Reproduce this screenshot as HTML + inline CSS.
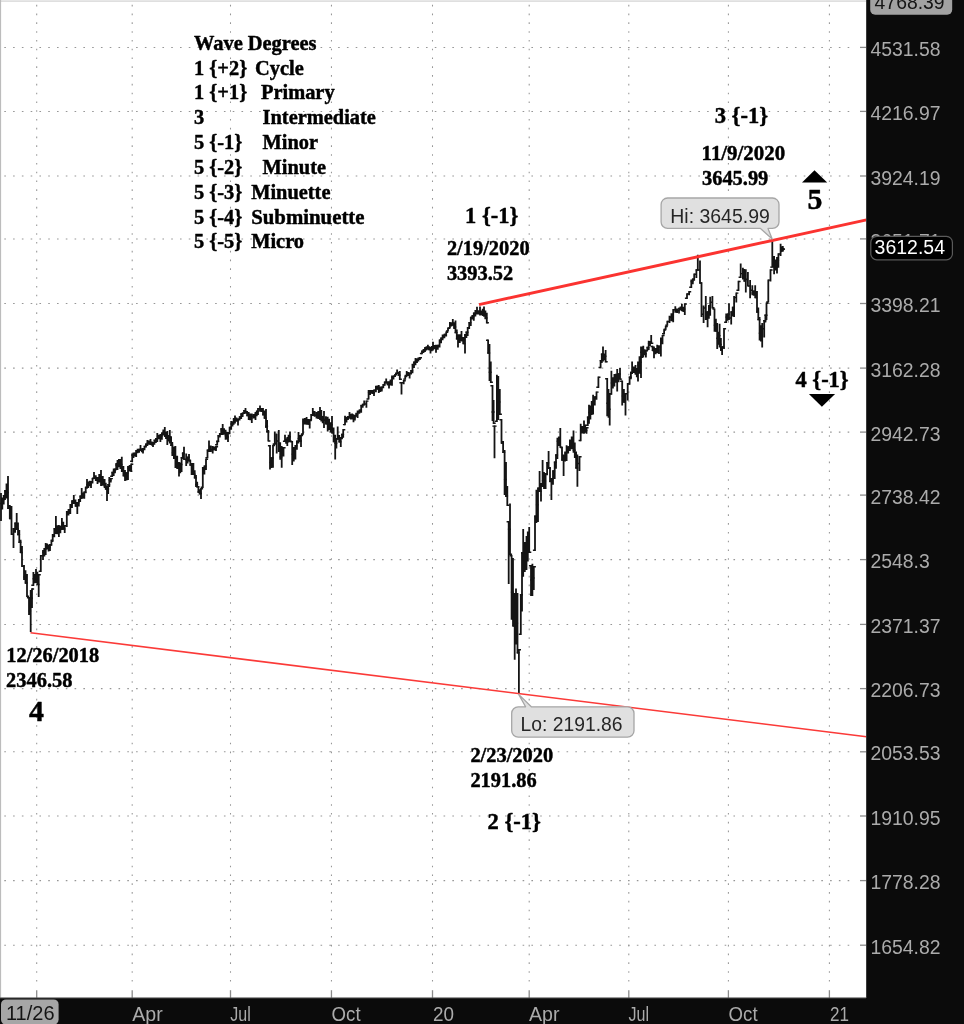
<!DOCTYPE html>
<html lang="en"><head><meta charset="utf-8"><title>Wave Degrees chart</title>
<style>
html,body{margin:0;padding:0;background:#fff;}
body{width:964px;height:1024px;overflow:hidden;position:relative;}
svg{position:absolute;left:0;top:0;display:block;}
.ax{font-family:"Liberation Sans",sans-serif;font-size:19.4px;fill:#ababab;}
.sb{font-family:"Liberation Serif",serif;font-weight:bold;fill:#000;stroke:#000;stroke-width:0.45px;stroke-linejoin:round;}
.t20{font-size:20.4px;}
.t23{font-size:22.5px;}
.t28{font-size:29.8px;}
.co{font-family:"Liberation Sans",sans-serif;font-size:19.4px;fill:#262626;}
</style></head><body>
<svg width="964" height="1024" viewBox="0 0 964 1024">
<rect x="0" y="0" width="964" height="1024" fill="#ffffff"/>

<g stroke="#969696" stroke-width="1.05" stroke-dasharray="1.6 7.185" fill="none">
<line x1="4.3" y1="47.4" x2="855" y2="47.4"/>
<line x1="4.3" y1="111.4" x2="855" y2="111.4"/>
<line x1="4.3" y1="176.0" x2="855" y2="176.0"/>
<line x1="4.3" y1="238.9" x2="855" y2="238.9"/>
<line x1="4.3" y1="303.5" x2="855" y2="303.5"/>
<line x1="4.3" y1="368.1" x2="855" y2="368.1"/>
<line x1="4.3" y1="432.1" x2="855" y2="432.1"/>
<line x1="4.3" y1="495.1" x2="855" y2="495.1"/>
<line x1="4.3" y1="559.6" x2="855" y2="559.6"/>
<line x1="4.3" y1="624.4" x2="855" y2="624.4"/>
<line x1="4.3" y1="688.6" x2="855" y2="688.6"/>
<line x1="4.3" y1="751.8" x2="855" y2="751.8"/>
<line x1="4.3" y1="816.0" x2="855" y2="816.0"/>
<line x1="4.3" y1="880.6" x2="855" y2="880.6"/>
<line x1="4.3" y1="945.2" x2="855" y2="945.2"/>
<line x1="36.7" y1="4.8" x2="36.7" y2="986"/>
<line x1="132.2" y1="4.8" x2="132.2" y2="986"/>
<line x1="230.5" y1="4.8" x2="230.5" y2="986"/>
<line x1="331.45" y1="4.8" x2="331.45" y2="986"/>
<line x1="432.5" y1="4.8" x2="432.5" y2="986"/>
<line x1="529.2" y1="4.8" x2="529.2" y2="986"/>
<line x1="628.8" y1="4.8" x2="628.8" y2="986"/>
<line x1="728.4" y1="4.8" x2="728.4" y2="986"/>
<line x1="829.4" y1="4.8" x2="829.4" y2="986"/>
</g>
<g stroke="#8c8c8c" stroke-width="1.3">
<line x1="860" y1="47.4" x2="866" y2="47.4"/>
<line x1="860" y1="111.4" x2="866" y2="111.4"/>
<line x1="860" y1="176.0" x2="866" y2="176.0"/>
<line x1="860" y1="238.9" x2="866" y2="238.9"/>
<line x1="860" y1="303.5" x2="866" y2="303.5"/>
<line x1="860" y1="368.1" x2="866" y2="368.1"/>
<line x1="860" y1="432.1" x2="866" y2="432.1"/>
<line x1="860" y1="495.1" x2="866" y2="495.1"/>
<line x1="860" y1="559.6" x2="866" y2="559.6"/>
<line x1="860" y1="624.4" x2="866" y2="624.4"/>
<line x1="860" y1="688.6" x2="866" y2="688.6"/>
<line x1="860" y1="751.8" x2="866" y2="751.8"/>
<line x1="860" y1="816.0" x2="866" y2="816.0"/>
<line x1="860" y1="880.6" x2="866" y2="880.6"/>
<line x1="860" y1="945.2" x2="866" y2="945.2"/>
<line x1="36.7" y1="990.2" x2="36.7" y2="998"/>
<line x1="132.2" y1="990.2" x2="132.2" y2="998"/>
<line x1="230.5" y1="990.2" x2="230.5" y2="998"/>
<line x1="331.45" y1="990.2" x2="331.45" y2="998"/>
<line x1="432.5" y1="990.2" x2="432.5" y2="998"/>
<line x1="529.2" y1="990.2" x2="529.2" y2="998"/>
<line x1="628.8" y1="990.2" x2="628.8" y2="998"/>
<line x1="728.4" y1="990.2" x2="728.4" y2="998"/>
<line x1="829.4" y1="990.2" x2="829.4" y2="998"/>
</g>
<rect x="0" y="0.4" width="866" height="1.4" fill="#d8d8d8"/>
<rect x="0" y="0" width="1.1" height="998" fill="#bcbcbc"/>
<path d="M1.0 493.0V521.0M2.3 497.4V509.4M3.7 494.9V504.5M5.0 490.0V500.0M6.5 483.4V498.5M8.0 476.0V509.0M9.8 505.1V519.3M11.5 506.0V535.0M13.5 528.0V548.0M15.1 522.4V532.7M16.7 513.0V530.0M18.0 522.6V535.3M19.3 530.0V543.0M20.6 539.7V553.1M22.0 546.0V567.0M24.0 565.0V580.0M25.5 570.3V583.7M27.0 574.0V597.0M29.0 597.0V615.0M30.7 590.0V632.0M32.0 588.2V607.9M33.4 572.0V586.0M34.7 574.0V583.3M36.0 569.0V583.0M37.4 571.8V585.1M38.7 574.0V597.0M40.8 555.0V572.0M43.0 550.0V560.0M44.4 548.1V556.4M45.7 543.0V555.0M47.1 543.5V549.4M48.6 544.5V551.4M50.0 544.0V551.0M51.4 540.6V545.8M52.7 534.0V541.0M54.3 528.0V537.2M55.9 516.0V534.0M57.4 525.2V534.3M58.9 525.0V537.0M60.4 525.7V533.2M61.9 518.0V530.0M63.3 521.7V529.7M64.7 525.0V533.0M66.8 511.0V527.0M68.5 508.9V515.5M70.3 504.0V514.0M72.0 500.2V508.1M73.8 495.0V504.0M75.5 499.4V506.8M77.3 502.0V514.0M78.8 498.9V506.5M80.2 495.4V502.1M81.7 488.0V499.0M83.0 492.4V498.6M84.3 491.6V498.7M85.7 487.4V493.2M87.0 479.0V488.0M88.3 481.4V488.0M89.7 480.7V486.2M91.0 481.0V488.0M92.5 477.9V483.4M94.0 472.0V479.0M95.8 475.2V480.9M97.5 477.0V484.0M99.2 474.1V482.6M101.0 470.0V486.0M102.8 476.1V485.8M104.6 479.0V488.0M105.8 482.8V489.6M107.0 486.0V501.0M108.2 484.1V494.0M109.3 477.0V487.0M110.8 477.9V482.4M112.2 471.8V476.9M113.7 468.5V476.0M115.0 468.4V473.2M116.2 462.9V470.2M117.5 460.0V470.0M118.9 459.1V467.2M120.4 459.0V469.0M121.8 456.7V472.0M123.4 465.9V476.4M125.0 470.0V481.0M126.5 472.3V480.5M128.0 466.0V480.0M129.6 465.1V471.6M131.2 463.5V472.0M132.2 453.5V462.0M133.5 452.4V457.9M134.9 452.6V456.6M136.2 450.0V457.0M137.6 448.7V453.3M139.1 448.7V452.7M140.5 445.0V451.0M141.8 448.2V452.2M143.0 448.0V453.5M144.5 445.7V450.3M145.9 443.6V447.6M147.4 440.0V446.0M148.9 440.5V444.8M150.5 439.0V445.0M151.8 441.4V445.4M153.0 442.0V447.0M154.4 439.6V444.8M155.9 438.1V442.9M157.3 433.0V442.0M158.9 434.7V439.3M160.4 434.0V442.0M161.9 432.4V439.7M163.3 429.4V435.6M164.8 427.0V437.0M166.1 431.7V439.1M167.3 431.0V445.0M168.6 435.1V441.4M169.8 430.0V443.5M171.1 436.2V445.9M172.3 442.0V456.0M173.9 446.5V459.1M175.4 446.0V468.0M177.2 455.8V469.0M179.0 462.0V476.6M180.3 462.4V473.3M181.6 457.0V472.0M182.8 452.3V458.8M184.0 446.7V460.0M186.2 453.5V466.0M187.6 456.4V463.4M189.0 454.0V461.0M190.3 460.4V465.7M191.6 463.0V475.0M193.4 463.0V475.0M194.7 470.2V478.4M196.0 475.0V487.0M197.2 481.7V487.4M198.4 486.0V493.0M199.7 489.2V494.5M201.0 488.0V499.0M202.8 467.0V488.0M204.4 465.4V474.6M206.0 458.5V470.0M207.5 449.6V458.3M209.0 440.5V452.0M210.8 445.5V451.9M212.7 446.0V453.5M214.3 446.5V450.5M216.0 446.0V451.0M217.2 440.8V445.5M218.3 435.0V442.0M219.8 433.1V437.4M221.2 427.9V435.0M222.7 424.0V435.0M224.1 428.3V434.4M225.6 429.7V439.7M226.8 431.8V439.6M228.0 432.0V442.0M229.6 426.8V434.2M231.2 421.0V429.7M232.5 421.4V426.4M233.7 418.0V424.7M235.0 415.4V423.5M236.5 417.4V421.4M238.0 418.5V425.4M239.6 416.2V420.4M241.2 413.0V419.0M242.6 412.4V417.0M244.1 410.1V414.1M245.5 408.0V413.5M247.1 411.0V416.2M248.7 412.0V420.0M250.2 413.4V420.2M251.8 413.5V423.0M253.7 414.0V418.4M255.5 412.0V420.0M256.8 410.5V416.2M258.0 408.0V415.0M260.0 405.5V411.7M261.5 407.9V411.9M263.0 408.0V415.4M264.5 410.6V418.7M266.0 409.0V428.0M267.1 419.9V432.5M268.3 430.0V441.6M270.0 445.0V469.6M271.5 457.2V467.9M273.0 444.7V467.7M274.8 431.6V444.7M276.7 433.5V453.4M278.8 430.0V452.0M280.2 442.3V459.8M281.7 446.0V467.7M283.5 447.0V456.5M285.0 434.7V442.0M286.1 438.8V443.8M287.3 437.0V446.0M288.6 434.7V442.6M290.0 431.6V442.0M292.2 441.0V465.0M293.8 447.1V461.5M295.4 445.0V459.6M296.9 440.4V449.7M298.5 432.0V443.4M299.8 435.1V441.8M301.0 434.7V447.0M303.0 418.5V434.7M304.8 418.1V424.6M306.6 417.0V424.8M308.1 419.1V424.8M309.7 419.8V428.5M311.2 414.0V420.4M312.8 408.0V416.0M314.6 410.9V416.8M316.5 412.0V418.5M318.2 411.1V419.1M320.0 407.0V420.0M321.3 409.9V421.5M322.7 416.0V423.2M324.0 411.0V428.0M325.9 416.2V424.4M327.7 416.7V431.6M329.1 418.8V430.1M330.6 422.2V432.5M332.0 416.0V433.5M333.6 427.6V442.3M335.2 434.7V459.6M336.4 438.0V448.5M337.7 426.6V439.7M339.2 435.0V442.4M340.8 437.0V447.0M342.0 433.8V439.3M343.2 429.0V437.7M345.0 415.7V425.3M346.5 416.8V422.6M348.0 416.1V420.1M349.5 412.0V418.7M350.8 413.8V419.6M352.2 413.5V419.4M353.5 414.3V422.3M354.9 415.1V420.5M356.2 412.8V416.8M357.6 410.6V418.0M359.4 409.5V413.8M361.2 404.8V412.8M362.7 403.8V407.8M364.2 400.4V405.5M366.4 400.4V407.7M368.6 390.0V399.6M370.1 390.0V395.1M371.5 390.0V393.8M372.8 389.9V393.9M374.0 389.4V396.0M375.9 385.7V392.3M377.4 385.6V389.6M378.8 385.0V393.0M380.3 386.6V392.1M381.8 386.4V391.6M383.3 384.3V388.3M384.7 381.4V385.4M386.2 378.4V383.5M387.6 381.3V385.3M389.0 381.3V388.6M390.5 379.4V385.4M392.0 375.5V385.7M393.5 375.6V379.6M395.0 374.0V377.0M397.1 369.6V374.0M398.5 371.8V375.8M399.8 371.0V380.0M401.5 382.0V394.5M403.7 380.0V384.2M405.2 375.8V379.8M406.7 371.0V376.2M408.1 372.0V376.0M409.6 372.5V378.4M411.1 370.0V374.6M412.5 363.7V373.3M414.0 361.6V368.0M415.5 357.9V365.2M417.0 358.4V363.0M418.4 357.5V361.5M419.9 357.0V360.0M422.0 350.5V354.2M423.5 349.0V353.0M425.0 346.9V352.0M426.4 346.6V350.6M427.9 344.7V349.8M429.2 346.3V350.3M430.5 346.9V353.5M431.8 346.1V351.2M433.0 341.8V350.5M434.5 345.1V349.1M436.0 344.7V352.7M437.8 344.8V349.8M439.6 339.6V347.6M441.1 337.5V343.2M442.6 334.4V340.3M444.4 333.8V338.2M446.2 331.5V336.6M448.0 327.6V331.6M449.9 322.0V328.6M451.4 322.6V326.6M452.8 319.0V325.6M454.1 322.2V329.1M455.5 320.6V333.3M456.8 329.4V339.4M458.0 334.2V347.5M459.8 334.3V343.1M461.5 331.0V341.3M463.2 337.0V344.3M465.0 334.0V353.6M466.4 331.6V338.1M467.7 327.0V336.0M469.2 321.9V328.9M470.8 316.7V326.0M472.3 315.1V319.4M473.8 312.6V320.8M475.4 310.0V316.4M477.0 306.8V314.6M478.5 310.4V314.4M480.0 306.4V315.6M481.3 310.4V315.2M482.7 308.7V315.9M484.0 306.4V316.7M485.4 310.6V319.3M486.8 312.7V323.4M488.1 339.6V353.7M489.5 344.0V381.0M490.8 361.5V383.0M492.5 385.0V421.0M493.6 400.0V424.0M494.5 425.4V458.2M496.9 374.7V422.0M498.3 376.0V420.0M499.8 389.0V415.0M501.5 419.0V443.8M503.1 441.0V453.0M504.6 450.0V495.0M506.0 462.0V497.0M507.3 486.0V506.0M508.7 521.0V584.0M510.0 503.6V555.0M511.6 555.0V619.8M513.0 558.0V626.6M514.7 592.9V659.7M516.0 588.4V644.6M517.5 592.9V653.5M518.9 649.0V694.0M520.8 594.0V635.0M522.0 552.0V611.4M523.2 529.0V576.7M524.8 542.0V572.0M526.5 535.9V570.0M527.8 531.6V561.6M529.2 527.0V553.0M531.0 565.0V596.0M532.4 563.7V596.0M533.8 566.0V590.0M535.0 515.4V551.0M536.4 489.7V523.0M538.0 487.5V522.0M539.6 471.0V492.0M541.0 483.0V501.5M542.6 460.0V487.0M544.0 472.0V489.0M545.6 473.0V489.0M547.1 462.1V475.2M548.6 451.0V469.0M550.0 467.0V482.1M551.4 478.0V500.0M553.0 470.3V484.8M554.7 461.5V479.0M556.0 454.2V468.7M557.4 437.8V459.0M558.8 436.4V446.1M560.3 428.0V447.8M562.0 446.8V460.7M563.6 454.5V476.0M565.1 451.4V461.6M566.6 445.3V461.0M568.2 446.2V453.6M569.9 439.5V451.0M571.7 436.6V449.3M573.5 430.4V452.8M574.8 442.5V457.9M576.1 451.4V468.6M577.4 454.5V486.8M579.5 456.0V471.0M580.7 423.8V441.2M582.4 426.1V433.5M584.0 420.5V433.7M585.2 424.4V432.8M586.5 427.0V433.7M587.8 416.4V426.0M589.0 404.7V423.8M590.4 405.4V419.4M591.7 400.9V415.0M593.1 394.7V414.6M594.8 396.3V405.4M596.5 391.4V399.7M598.4 376.5V388.0M600.6 359.9V368.2M601.8 353.6V363.0M603.0 346.6V361.5M604.3 353.5V360.2M605.6 350.0V362.4M607.2 378.0V416.3M608.5 388.9V417.7M609.7 393.0V425.4M611.4 370.7V394.7M612.9 377.2V388.6M614.4 374.0V386.4M615.8 373.7V382.8M617.2 369.0V391.4M618.6 373.2V382.3M620.0 368.0V379.8M622.2 380.6V405.5M623.9 389.1V402.8M625.5 393.0V415.5M627.7 383.0V400.5M629.6 376.5V384.8M630.9 371.7V379.3M632.1 361.5V374.0M633.8 366.6V373.0M635.5 364.9V374.8M636.8 368.1V377.3M638.0 361.5V381.5M639.5 356.2V373.8M641.0 346.6V378.0M642.1 346.4V358.0M643.3 345.8V357.4M644.6 349.2V355.3M645.9 350.0V357.4M647.3 346.8V351.1M648.7 340.8V350.0M650.0 340.9V346.1M651.2 335.0V344.0M652.6 345.8V351.1M654.0 346.6V358.2M655.6 347.9V354.3M657.2 344.8V353.3M659.0 345.3V354.0M660.9 337.5V356.4M662.5 334.9V344.2M664.1 329.3V334.4M665.7 325.8V329.8M667.3 320.8V325.8M669.5 315.7V323.0M671.4 313.2V321.3M673.2 309.0V322.2M675.3 306.2V312.8M677.1 308.5V313.1M679.0 307.7V313.5M680.5 306.4V310.6M681.9 304.0V311.3M683.3 306.8V311.9M684.8 303.3V315.0M687.0 293.2V299.0M689.1 291.0V295.3M691.3 279.4V288.0M692.8 278.6V284.3M694.2 273.6V280.8M696.4 269.2V278.0M697.8 254.7V270.7M700.0 260.5V283.7M701.5 282.3V317.0M703.6 305.5V323.0M705.8 296.0V320.0M707.6 311.3V327.3M708.9 304.9V318.7M710.2 296.8V315.7M712.4 296.0V308.4M714.5 308.4V331.7M715.9 318.7V331.7M717.2 323.0V349.0M718.4 331.7V344.8M719.6 323.7V347.6M720.9 338.0V351.0M722.1 346.2V355.0M724.0 328.0V349.0M726.2 313.5V323.0M727.6 313.5V320.7M729.0 303.3V320.0M731.2 311.3V324.4M732.7 306.7V316.5M734.1 296.0V317.0M736.3 292.4V302.6M738.5 280.8V291.0M740.7 263.4V278.0M742.9 267.8V279.4M744.3 268.9V281.8M745.8 269.2V292.4M747.9 272.0V286.6M750.1 280.0V298.3M752.3 285.2V295.3M753.8 290.2V295.8M755.2 285.2V298.3M757.0 291.0V312.8M758.3 307.5V320.3M759.6 317.0V340.4M760.9 325.2V341.5M762.2 323.0V347.6M764.2 320.0V337.5M765.4 314.5V322.4M766.5 302.6V320.0M768.3 279.4V302.6M770.5 269.2V281.6M772.3 239.4V267.8M774.1 256.0V274.3M775.5 259.6V270.6M777.0 256.9V273.6M778.4 253.2V267.8M780.6 243.8V256.0M782.8 246.0V251.8" stroke="#141414" stroke-width="1.8" fill="none"/>
<path d="M-1.1 503.4H1.0M1.0 503.4H3.1M0.2 503.4H2.3M2.3 499.7H4.4M1.6 499.7H3.7M3.7 495.6H5.8M2.9 495.6H5.0M5.0 491.0H7.1M4.4 491.0H6.5M6.5 492.5H8.6M5.9 492.5H8.0M8.0 508.3H10.1M7.7 508.3H9.8M9.8 518.6H11.8M9.4 518.6H11.5M11.5 534.3H13.6M11.4 534.3H13.5M13.5 528.7H15.6M13.0 528.7H15.1M15.1 523.1H17.2M14.6 523.1H16.7M16.7 528.9H18.8M15.9 528.9H18.0M18.0 534.6H20.1M17.2 534.6H19.3M19.3 542.3H21.4M18.5 542.3H20.6M20.6 552.4H22.8M19.9 552.4H22.0M22.0 566.3H24.1M21.9 566.3H24.0M24.0 577.0H26.1M23.4 577.0H25.5M25.5 583.0H27.6M24.9 583.0H27.0M27.0 596.3H29.1M26.9 597.7H29.0M29.0 611.0H31.1M28.6 611.0H30.7M30.7 598.1H32.8M29.9 598.1H32.0M32.0 588.9H34.1M31.3 585.3H33.4M33.4 578.7H35.5M32.6 578.7H34.7M34.7 576.0H36.8M33.9 576.0H36.0M36.0 578.5H38.1M35.2 578.5H37.4M37.4 584.4H39.5M36.6 584.4H38.7M38.7 574.7H40.8M38.7 571.3H40.8M40.8 555.7H42.9M40.9 555.7H43.0M43.0 552.2H45.1M42.2 552.2H44.4M44.4 549.0H46.5M43.6 549.0H45.7M45.7 546.4H47.8M45.0 546.4H47.1M47.1 548.0H49.2M46.5 548.0H48.6M48.6 547.5H50.7M47.9 547.5H50.0M50.0 544.7H52.1M49.2 544.7H51.4M51.4 541.3H53.5M50.6 540.3H52.7M52.7 534.7H54.8M52.2 534.7H54.3M54.3 528.7H56.4M53.8 528.7H55.9M55.9 529.8H58.0M55.3 529.8H57.4M57.4 531.0H59.5M56.8 531.0H58.9M58.9 529.4H61.0M58.3 529.4H60.4M60.4 526.4H62.5M59.8 526.4H61.9M61.9 525.7H64.0M61.2 525.7H63.3M63.3 529.0H65.4M62.6 529.0H64.7M64.7 525.7H66.8M64.7 525.7H66.8M66.8 512.2H68.9M66.5 512.2H68.5M68.5 509.6H70.6M68.2 509.6H70.3M70.3 504.7H72.4M70.0 504.7H72.0M72.0 500.9H74.1M71.7 500.9H73.8M73.8 503.1H75.9M73.5 503.1H75.5M75.5 506.1H77.6M75.2 506.1H77.3M77.3 502.7H79.4M76.7 502.7H78.8M78.8 499.6H80.9M78.1 499.6H80.2M80.2 496.1H82.3M79.6 496.1H81.7M81.7 495.5H83.8M80.9 495.5H83.0M83.0 495.1H85.1M82.2 495.1H84.3M84.3 492.3H86.4M83.6 492.3H85.7M85.7 488.1H87.8M84.9 487.3H87.0M87.0 484.7H89.1M86.2 484.7H88.3M88.3 483.4H90.4M87.6 483.4H89.7M89.7 484.5H91.8M88.9 484.5H91.0M91.0 481.7H93.1M90.4 481.7H92.5M92.5 478.6H94.6M91.9 478.3H94.0M94.0 478.1H96.1M93.7 478.1H95.8M95.8 480.2H97.8M95.4 480.2H97.5M97.5 478.4H99.6M97.2 478.4H99.2M99.2 478.0H101.3M98.9 478.0H101.0M101.0 480.9H103.1M100.7 480.9H102.8M102.8 483.5H104.9M102.5 483.5H104.6M104.6 486.2H106.7M103.7 486.2H105.8M105.8 488.9H107.9M104.9 488.9H107.0M107.0 489.0H109.1M106.1 489.0H108.2M108.2 484.8H110.2M107.2 484.8H109.3M109.3 480.2H111.4M108.7 480.2H110.8M110.8 478.6H112.9M110.1 476.2H112.2M112.2 472.5H114.3M111.6 472.5H113.7M113.7 470.8H115.8M112.9 470.8H115.0M115.0 469.1H117.1M114.1 469.1H116.2M116.2 465.0H118.3M115.4 465.0H117.5M117.5 463.2H119.6M116.8 463.2H118.9M118.9 464.0H121.0M118.3 464.0H120.4M120.4 464.4H122.5M119.7 464.4H121.8M121.8 471.2H123.9M121.3 471.2H123.4M123.4 475.5H125.5M122.9 475.5H125.0M125.0 476.4H127.1M124.4 476.4H126.5M126.5 473.0H128.6M125.9 473.0H128.0M128.0 468.3H130.1M127.5 468.3H129.6M129.6 467.8H131.7M129.1 467.8H131.2M131.2 464.2H133.3M130.1 461.3H132.2M132.2 455.2H134.3M131.4 455.2H133.5M133.5 454.6H135.6M132.8 454.6H134.9M134.9 453.5H137.0M134.1 453.5H136.2M136.2 451.0H138.3M135.5 451.0H137.6M137.6 450.7H139.7M137.0 450.7H139.1M139.1 449.4H141.2M138.4 449.4H140.5M140.5 450.2H142.6M139.7 450.2H141.8M141.8 450.8H143.8M140.9 450.8H143.0M143.0 448.7H145.1M142.4 448.7H144.5M144.5 446.4H146.6M143.8 446.4H145.9M145.9 444.3H148.0M145.3 444.3H147.4M147.4 442.7H149.5M146.8 442.7H148.9M148.9 442.0H151.0M148.4 442.0H150.5M150.5 443.4H152.6M149.7 443.4H151.8M151.8 444.5H153.8M150.9 444.5H153.0M153.0 442.7H155.1M152.3 442.7H154.4M154.4 440.5H156.5M153.8 440.5H155.9M155.9 438.8H158.0M155.2 438.8H157.3M157.3 437.0H159.4M156.8 437.0H158.9M158.9 438.0H161.0M158.3 438.0H160.4M160.4 436.0H162.5M159.8 436.0H161.9M161.9 433.1H164.0M161.2 433.1H163.3M163.3 432.0H165.4M162.7 432.0H164.8M164.8 435.4H166.9M164.0 435.4H166.1M166.1 438.0H168.2M165.2 438.0H167.3M167.3 438.2H169.4M166.5 438.2H168.6M168.6 436.8H170.7M167.7 436.8H169.8M169.8 441.1H171.9M169.0 441.1H171.1M171.1 445.2H173.2M170.2 445.2H172.3M172.3 452.8H174.4M171.8 452.8H173.9M173.9 457.0H176.0M173.3 457.0H175.4M175.4 462.4H177.5M175.1 462.4H177.2M177.2 468.3H179.3M176.9 468.3H179.0M179.0 467.8H181.1M178.2 467.8H180.3M180.3 464.5H182.4M179.5 464.5H181.6M181.6 457.7H183.7M180.7 457.7H182.8M182.8 453.4H184.9M181.9 453.4H184.0M184.0 459.3H186.1M184.1 459.3H186.2M186.2 459.9H188.3M185.5 459.9H187.6M187.6 457.5H189.7M186.9 457.5H189.0M189.0 460.3H191.1M188.2 461.1H190.3M190.3 465.0H192.4M189.5 465.0H191.6M191.6 469.0H193.7M191.3 469.0H193.4M193.4 474.3H195.5M192.6 474.3H194.7M194.7 477.7H196.8M193.9 477.7H196.0M196.0 484.5H198.1M195.1 484.5H197.2M197.2 486.7H199.3M196.3 486.7H198.4M198.4 491.8H200.5M197.6 491.8H199.7M199.7 493.5H201.8M198.9 493.5H201.0M201.0 488.7H203.1M200.7 487.3H202.8M202.8 470.0H204.9M202.3 470.0H204.4M204.4 466.1H206.5M203.9 466.1H206.0M206.0 459.2H208.1M205.4 457.6H207.5M207.5 450.3H209.6M206.9 450.3H209.0M209.0 448.7H211.1M208.8 448.7H210.8M210.8 449.8H212.9M210.6 449.8H212.7M212.7 448.5H214.8M212.2 448.5H214.3M214.3 448.5H216.4M213.9 448.5H216.0M216.0 446.7H218.1M215.1 444.8H217.2M217.2 441.5H219.2M216.2 441.3H218.3M218.3 435.7H220.4M217.7 435.7H219.8M219.8 433.8H221.9M219.1 433.8H221.2M221.2 429.5H223.3M220.6 429.5H222.7M222.7 431.4H224.8M222.0 431.4H224.1M224.1 433.7H226.2M223.5 433.7H225.6M225.6 435.7H227.7M224.7 435.7H226.8M226.8 437.0H228.9M225.9 437.0H228.0M228.0 432.7H230.1M227.5 432.7H229.6M229.6 427.5H231.7M229.1 427.5H231.2M231.2 423.9H233.3M230.4 423.9H232.5M232.5 422.1H234.6M231.6 422.1H233.7M233.7 419.4H235.8M232.9 419.4H235.0M235.0 419.4H237.1M234.4 419.4H236.5M236.5 420.7H238.6M235.9 420.7H238.0M238.0 419.2H240.1M237.5 419.2H239.6M239.6 416.9H241.7M239.1 416.9H241.2M241.2 414.7H243.3M240.5 414.7H242.6M242.6 413.1H244.7M242.0 413.1H244.1M244.1 410.8H246.2M243.4 410.8H245.5M245.5 412.8H247.6M245.0 412.8H247.1M247.1 415.5H249.2M246.6 415.5H248.7M248.7 416.8H250.8M248.2 416.8H250.2M250.2 418.2H252.3M249.7 418.2H251.8M251.8 416.2H253.9M251.6 416.2H253.7M253.7 416.0H255.8M253.4 416.0H255.5M255.5 413.4H257.6M254.7 413.4H256.8M256.8 411.5H258.9M255.9 411.5H258.0M258.0 408.7H260.1M257.9 408.7H260.0M260.0 409.9H262.1M259.4 409.9H261.5M261.5 411.2H263.6M260.9 411.2H263.0M263.0 414.6H265.1M262.4 414.6H264.5M264.5 418.0H266.6M263.9 418.0H266.0M266.0 426.2H268.1M265.0 426.2H267.1M267.1 431.8H269.2M266.2 431.8H268.3M268.3 440.9H270.4M267.9 445.7H270.0M270.0 462.5H272.1M269.4 462.5H271.5M271.5 457.9H273.6M270.9 457.9H273.0M273.0 445.4H275.1M272.7 444.0H274.8M274.8 443.4H276.9M274.6 443.4H276.7M276.7 441.0H278.8M276.7 441.0H278.8M278.8 451.0H280.9M278.1 451.0H280.2M280.2 456.9H282.4M279.6 456.9H281.7M281.7 451.8H283.8M281.4 451.8H283.5M283.5 447.7H285.6M282.9 441.3H285.0M285.0 441.3H287.1M284.0 441.3H286.1M286.1 441.5H288.2M285.2 441.5H287.3M287.3 438.7H289.4M286.5 438.7H288.6M288.6 436.8H290.8M287.9 436.8H290.0M290.0 441.3H292.1M290.1 441.7H292.2M292.2 454.3H294.3M291.7 454.3H293.8M293.8 452.3H295.9M293.3 452.3H295.4M295.4 445.7H297.5M294.8 445.7H296.9M296.9 441.1H299.1M296.4 441.1H298.5M298.5 438.5H300.6M297.6 438.5H299.8M299.8 440.9H301.9M298.9 440.9H301.0M301.0 435.4H303.1M300.9 434.0H303.0M303.0 421.4H305.1M302.7 421.4H304.8M304.8 420.9H306.9M304.5 420.9H306.6M306.6 422.0H308.7M306.0 422.0H308.1M308.1 424.1H310.2M307.6 424.1H309.7M309.7 420.5H311.8M309.1 419.7H311.2M311.2 414.7H313.4M310.7 414.7H312.8M312.8 413.9H314.9M312.5 413.9H314.6M314.6 415.2H316.8M314.4 415.2H316.5M316.5 415.1H318.6M316.1 415.1H318.2M318.2 413.5H320.4M317.9 413.5H320.0M320.0 415.7H322.1M319.2 415.7H321.3M321.3 419.6H323.4M320.6 419.6H322.7M322.7 419.5H324.8M321.9 419.5H324.0M324.0 420.3H326.1M323.8 420.3H325.9M325.9 423.7H328.0M325.6 423.7H327.7M327.7 424.5H329.8M327.0 424.5H329.1M329.1 427.4H331.2M328.5 427.4H330.6M330.6 424.8H332.7M329.9 424.8H332.0M332.0 432.8H334.1M331.5 432.8H333.6M333.6 441.6H335.7M333.1 441.6H335.2M335.2 443.2H337.3M334.3 443.2H336.4M336.4 438.7H338.6M335.6 438.7H337.7M337.7 438.7H339.8M337.1 438.7H339.2M339.2 441.7H341.4M338.7 441.7H340.8M340.8 437.7H342.9M339.9 437.7H342.0M342.0 434.5H344.1M341.1 434.5H343.2M343.2 429.7H345.3M342.9 424.6H345.0M345.0 419.7H347.1M344.4 419.7H346.5M346.5 418.1H348.6M345.9 418.1H348.0M348.0 416.8H350.1M347.4 416.8H349.5M349.5 416.7H351.6M348.7 416.7H350.8M350.8 416.5H352.9M350.1 416.5H352.2M352.2 418.3H354.3M351.4 418.3H353.5M353.5 417.8H355.6M352.8 417.8H354.9M354.9 415.8H357.0M354.1 415.8H356.2M356.2 414.3H358.3M355.5 414.3H357.6M357.6 411.6H359.7M357.3 411.6H359.4M359.4 410.2H361.5M359.1 410.2H361.2M361.2 405.8H363.3M360.6 405.8H362.7M362.7 404.5H364.8M362.1 404.5H364.2M364.2 404.0H366.3M364.3 404.0H366.4M366.4 401.1H368.5M366.5 398.9H368.6M368.6 392.6H370.7M367.9 392.6H370.1M370.1 391.9H372.2M369.4 391.9H371.5M371.5 391.9H373.6M370.6 391.9H372.8M372.8 392.7H374.9M371.9 392.7H374.0M374.0 390.1H376.1M373.8 390.1H375.9M375.9 387.6H378.0M375.2 387.6H377.4M377.4 388.9H379.5M376.7 388.9H378.8M378.8 389.4H380.9M378.2 389.4H380.3M380.3 389.0H382.4M379.7 389.0H381.8M381.8 387.1H383.9M381.2 387.1H383.3M383.3 385.0H385.4M382.6 384.7H384.7M384.7 382.1H386.8M384.1 382.1H386.2M386.2 382.8H388.3M385.5 382.8H387.6M387.6 384.6H389.7M386.9 384.6H389.0M389.0 382.4H391.1M388.4 382.4H390.5M390.5 380.6H392.6M389.9 380.6H392.0M392.0 377.6H394.1M391.4 377.6H393.5M393.5 376.3H395.6M392.9 376.3H395.0M395.0 374.7H397.1M395.0 373.3H397.1M397.1 373.3H399.2M396.4 373.3H398.5M398.5 375.1H400.6M397.7 375.1H399.8M399.8 379.3H401.9M399.4 382.7H401.5M401.5 382.7H403.6M401.6 382.7H403.7M403.7 380.7H405.8M403.1 379.1H405.2M405.2 376.5H407.3M404.6 375.5H406.7M406.7 374.0H408.8M406.0 374.0H408.1M408.1 375.3H410.2M407.5 375.3H409.6M409.6 373.2H411.7M408.9 373.2H411.1M411.1 370.7H413.2M410.4 370.7H412.5M412.5 364.8H414.6M411.9 364.8H414.0M414.0 362.3H416.1M413.4 362.3H415.5M415.5 360.7H417.6M414.9 360.7H417.0M417.0 359.5H419.1M416.3 359.5H418.4M418.4 358.5H420.5M417.8 358.5H419.9M419.9 357.7H422.0M419.9 353.5H422.0M422.0 351.2H424.1M421.4 351.2H423.5M423.5 349.7H425.6M422.9 349.7H425.0M425.0 348.6H427.1M424.3 348.6H426.4M426.4 347.3H428.6M425.8 347.3H427.9M427.9 348.3H430.0M427.1 348.3H429.2M429.2 349.6H431.3M428.4 349.6H430.5M430.5 348.7H432.6M429.6 348.7H431.8M431.8 346.8H433.9M430.9 346.8H433.0M433.0 347.1H435.1M432.4 347.1H434.5M434.5 348.4H436.6M433.9 348.4H436.0M436.0 347.3H438.1M435.7 347.3H437.8M437.8 345.5H439.9M437.5 345.5H439.6M439.6 340.3H441.7M439.0 340.3H441.1M441.1 338.2H443.2M440.5 338.2H442.6M442.6 336.0H444.7M442.3 336.0H444.4M444.4 334.5H446.5M444.1 334.5H446.2M446.2 332.2H448.3M445.9 330.9H448.0M448.0 328.3H450.1M447.8 327.9H449.9M449.9 324.6H452.0M449.2 324.6H451.4M451.4 323.3H453.5M450.7 323.3H452.8M452.8 324.9H454.9M452.0 324.9H454.1M454.1 327.0H456.2M453.4 327.0H455.5M455.5 332.6H457.6M454.6 332.6H456.8M456.8 338.7H458.9M455.9 338.7H458.0M458.0 338.7H460.1M457.6 338.7H459.8M459.8 336.1H461.9M459.4 336.1H461.5M461.5 340.6H463.6M461.1 340.6H463.2M463.2 343.6H465.4M462.9 343.6H465.0M465.0 334.9H467.1M464.2 334.9H466.4M466.4 332.3H468.5M465.6 332.3H467.7M467.7 327.7H469.8M467.1 327.7H469.2M469.2 322.6H471.4M468.7 322.6H470.8M470.8 317.4H472.9M470.2 317.4H472.3M472.3 316.7H474.4M471.7 316.7H473.8M473.8 313.3H475.9M473.3 313.3H475.4M475.4 310.7H477.5M474.9 310.7H477.0M477.0 312.4H479.1M476.4 312.4H478.5M478.5 311.1H480.6M477.9 311.1H480.0M480.0 312.8H482.1M479.2 312.8H481.3M481.3 312.3H483.4M480.6 312.3H482.7M482.7 311.5H484.8M481.9 311.5H484.0M484.0 314.9H486.1M483.3 314.9H485.4M485.4 318.0H487.5M484.7 318.0H486.8M486.8 322.7H488.9M486.0 340.3H488.1M488.1 353.0H490.2M487.4 353.0H489.5M489.5 372.2H491.6M488.7 372.2H490.8M490.8 382.3H492.9M490.4 385.7H492.5M492.5 412.0H494.6M491.5 412.0H493.6M493.6 423.3H495.7M492.4 426.1H494.5M494.5 426.1H496.6M494.8 421.3H496.9M496.9 398.0H499.0M496.2 398.0H498.3M498.3 402.0H500.4M497.7 402.0H499.8M499.8 414.3H501.9M499.4 419.7H501.5M501.5 443.1H503.6M501.0 443.1H503.1M503.1 452.3H505.2M502.5 452.3H504.6M504.6 479.5H506.7M503.9 479.5H506.0M506.0 496.0H508.1M505.2 496.0H507.3M507.3 505.3H509.4M506.6 521.7H508.7M508.7 529.3H510.8M507.9 529.3H510.0M510.0 554.3H512.1M509.5 555.7H511.6M511.6 592.3H513.7M510.9 592.3H513.0M513.0 625.9H515.1M512.6 625.9H514.7M514.7 616.5H516.8M513.9 616.5H516.0M516.0 623.2H518.1M515.4 623.2H517.5M517.5 652.8H519.6M516.8 652.8H518.9M518.9 649.7H521.0M518.7 634.3H520.8M520.8 594.7H522.9M519.9 594.7H522.0M522.0 552.9H524.1M521.1 552.9H523.2M523.2 557.0H525.3M522.7 557.0H524.8M524.8 553.0H526.9M524.4 553.0H526.5M526.5 546.6H528.6M525.7 546.6H527.8M527.8 540.0H529.9M527.1 540.0H529.2M529.2 552.3H531.3M528.9 565.7H531.0M531.0 579.9H533.1M530.3 579.9H532.4M532.4 578.0H534.5M531.7 578.0H533.8M533.8 566.7H535.9M532.9 550.3H535.0M535.0 516.1H537.1M534.3 516.1H536.4M536.4 504.8H538.5M535.9 504.8H538.0M538.0 488.2H540.1M537.5 488.2H539.6M539.6 491.3H541.7M538.9 491.3H541.0M541.0 483.7H543.1M540.5 483.7H542.6M542.6 480.5H544.7M541.9 480.5H544.0M544.0 481.0H546.1M543.5 481.0H545.6M545.6 473.7H547.7M545.0 473.7H547.1M547.1 462.8H549.2M546.5 462.8H548.6M548.6 468.3H550.7M547.9 468.3H550.0M550.0 481.4H552.1M549.3 481.4H551.4M551.4 478.7H553.5M550.9 478.7H553.0M553.0 471.0H555.1M552.6 471.0H554.7M554.7 462.2H556.8M553.9 462.2H556.0M556.0 454.9H558.1M555.3 454.9H557.4M557.4 441.3H559.5M556.7 441.3H558.8M558.8 437.9H560.9M558.2 437.9H560.3M560.3 447.1H562.4M559.9 447.5H562.0M562.0 460.0H564.1M561.5 460.0H563.6M563.6 456.5H565.7M563.0 456.5H565.1M565.1 453.1H567.2M564.5 453.1H566.6M566.6 449.9H568.7M566.1 449.9H568.2M568.2 446.9H570.4M567.8 446.9H569.9M569.9 443.0H572.0M569.6 443.0H571.7M571.7 441.6H573.8M571.4 441.6H573.5M573.5 450.2H575.6M572.7 450.2H574.8M574.8 457.2H576.9M574.0 457.2H576.1M576.1 467.9H578.2M575.3 467.9H577.4M577.4 463.5H579.5M577.4 463.5H579.5M579.5 456.7H581.6M578.6 440.5H580.7M580.7 429.8H582.8M580.2 429.8H582.4M582.4 427.1H584.5M581.9 427.1H584.0M584.0 428.6H586.1M583.1 428.6H585.2M585.2 430.4H587.4M584.4 430.4H586.5M586.5 427.7H588.6M585.6 425.3H587.8M587.8 417.1H589.9M586.9 417.1H589.0M589.0 412.4H591.1M588.3 412.4H590.4M590.4 407.9H592.5M589.6 407.9H591.7M591.7 404.6H593.8M591.0 404.6H593.1M593.1 400.8H595.2M592.7 400.8H594.8M594.8 397.0H596.9M594.4 397.0H596.5M596.5 392.1H598.6M596.3 387.3H598.4M598.4 377.2H600.5M598.5 367.5H600.6M600.6 360.6H602.7M599.7 360.6H601.8M601.8 354.3H603.9M600.9 354.3H603.0M603.0 356.9H605.1M602.2 356.9H604.3M604.3 356.2H606.4M603.5 356.2H605.6M605.6 361.7H607.7M605.1 378.7H607.2M607.2 403.3H609.3M606.4 403.3H608.5M608.5 409.2H610.6M607.6 409.2H609.7M609.7 393.7H611.8M609.3 393.7H611.4M611.4 382.9H613.5M610.8 382.9H612.9M612.9 380.2H615.0M612.3 380.2H614.4M614.4 378.3H616.5M613.7 378.3H615.8M615.8 380.2H617.9M615.1 380.2H617.2M617.2 377.7H619.3M616.5 377.7H618.6M618.6 373.9H620.7M617.9 373.9H620.0M620.0 379.1H622.1M620.1 381.3H622.2M622.2 396.0H624.3M621.8 396.0H623.9M623.9 402.1H626.0M623.4 402.1H625.5M625.5 393.7H627.6M625.6 393.7H627.7M627.7 383.7H629.8M627.5 383.7H629.6M629.6 377.2H631.7M628.8 377.2H630.9M630.9 372.4H633.0M630.0 372.4H632.1M632.1 369.8H634.2M631.7 369.8H633.8M633.8 369.9H635.9M633.4 369.9H635.5M635.5 372.7H637.6M634.6 372.7H636.8M636.8 371.5H638.9M635.9 371.5H638.0M638.0 365.0H640.1M637.4 365.0H639.5M639.5 362.3H641.6M638.9 362.3H641.0M641.0 352.2H643.1M640.0 352.2H642.1M642.1 351.6H644.2M641.2 351.6H643.3M643.3 352.3H645.4M642.5 352.3H644.6M644.6 353.7H646.7M643.8 353.7H645.9M645.9 350.7H648.0M645.2 350.4H647.3M647.3 347.5H649.4M646.6 347.5H648.7M648.7 343.5H650.8M647.9 343.5H650.0M650.0 341.6H652.1M649.1 341.6H651.2M651.2 343.3H653.3M650.5 346.5H652.6M652.6 350.4H654.7M651.9 350.4H654.0M654.0 351.1H656.1M653.5 351.1H655.6M655.6 349.1H657.7M655.1 349.1H657.2M657.2 349.7H659.3M656.9 349.7H659.0M659.0 346.9H661.1M658.8 346.9H660.9M660.9 339.6H663.0M660.4 339.6H662.5M662.5 335.6H664.6M662.0 333.7H664.1M664.1 330.0H666.2M663.6 329.1H665.7M665.7 326.5H667.8M665.2 325.1H667.3M667.3 321.5H669.4M667.4 321.5H669.5M669.5 317.3H671.6M669.2 317.3H671.4M671.4 315.6H673.5M671.1 315.6H673.2M673.2 309.7H675.3M673.2 309.7H675.3M675.3 310.8H677.4M675.0 310.8H677.1M677.1 310.6H679.2M676.9 310.6H679.0M679.0 308.5H681.1M678.4 308.5H680.5M680.5 307.6H682.6M679.8 307.6H681.9M681.9 309.3H684.0M681.2 309.3H683.3M683.3 309.1H685.4M682.7 309.1H684.8M684.8 304.0H686.9M684.9 298.3H687.0M687.0 293.9H689.1M687.0 293.9H689.1M689.1 291.7H691.2M689.2 287.3H691.3M691.3 281.5H693.4M690.6 281.5H692.8M692.8 279.3H694.9M692.1 279.3H694.2M694.2 274.3H696.3M694.3 274.3H696.4M696.4 269.9H698.5M695.7 269.9H697.8M697.8 270.0H699.9M697.9 270.0H700.0M700.0 283.0H702.1M699.4 283.0H701.5M701.5 314.2H703.6M701.5 314.2H703.6M703.6 308.0H705.7M703.7 308.0H705.8M705.8 319.3H707.9M705.5 319.3H707.6M707.6 312.0H709.7M706.8 312.0H708.9M708.9 306.2H711.0M708.1 306.2H710.2M710.2 302.2H712.3M710.3 302.2H712.4M712.4 307.7H714.5M712.4 309.1H714.5M714.5 325.2H716.6M713.8 325.2H715.9M715.9 331.0H718.0M715.1 331.0H717.2M717.2 338.3H719.3M716.3 338.3H718.4M718.4 335.6H720.5M717.5 335.6H719.6M719.6 344.5H721.7M718.8 344.5H720.9M720.9 350.3H723.0M720.0 350.3H722.1M722.1 346.9H724.2M721.9 346.9H724.0M724.0 328.7H726.1M724.1 322.3H726.2M726.2 317.1H728.3M725.5 317.1H727.6M727.6 314.2H729.7M726.9 314.2H729.0M729.0 317.9H731.1M729.1 317.9H731.2M731.2 312.0H733.3M730.6 312.0H732.7M732.7 307.4H734.8M732.0 307.4H734.1M734.1 297.5H736.2M734.2 297.5H736.3M736.3 293.1H738.4M736.4 290.3H738.5M738.5 281.5H740.6M738.6 277.3H740.7M740.7 273.6H742.8M740.8 273.6H742.9M742.9 275.3H745.0M742.2 275.3H744.3M744.3 280.8H746.4M743.7 280.8H745.8M745.8 279.3H747.9M745.8 279.3H747.9M747.9 285.9H750.0M748.0 285.9H750.1M750.1 290.2H752.2M750.2 290.2H752.3M752.3 293.0H754.4M751.6 293.0H753.8M753.8 291.8H755.9M753.1 291.8H755.2M755.2 297.6H757.3M754.9 297.6H757.0M757.0 312.1H759.1M756.2 312.1H758.3M758.3 319.6H760.4M757.5 319.6H759.6M759.6 333.3H761.7M758.8 333.3H760.9M760.9 335.3H763.0M760.1 335.3H762.2M762.2 328.8H764.3M762.1 328.8H764.2M764.2 320.7H766.3M763.2 320.7H765.4M765.4 315.2H767.5M764.4 315.2H766.5M766.5 303.3H768.6M766.2 301.9H768.3M768.3 280.1H770.4M768.4 280.1H770.5M770.5 269.9H772.6M770.2 267.1H772.3M772.3 265.1H774.4M772.0 265.1H774.1M774.1 265.1H776.2M773.4 265.1H775.5M775.5 265.2H777.6M774.9 265.2H777.0M777.0 260.5H779.1M776.3 260.5H778.4M778.4 253.9H780.5M778.5 253.9H780.6M780.6 248.9H782.7M780.7 248.9H782.8M782.8 248.9H784.9" stroke="#141414" stroke-width="1.45" fill="none"/>
<path d="M781 246 L785.2 249.2 L781 252.4 Z" fill="#111"/>
<line x1="479" y1="304.6" x2="866.5" y2="219.9" stroke="#fb3330" stroke-width="3"/>
<line x1="30.5" y1="632.8" x2="866.5" y2="736.8" stroke="#fb3a38" stroke-width="1.6"/>
<g fill="#e0e0e0" stroke="#a6a6a6" stroke-width="1.3" stroke-linejoin="round">
<path d="M667.6 198 H772.5 a6.5 6.5 0 0 1 6.5 6.5 V221.9 a6.5 6.5 0 0 1 -6.5 6.5 H768 L772.2 239.0 L760.5 228.4 H667.6 a6.5 6.5 0 0 1 -6.5 -6.5 V204.5 a6.5 6.5 0 0 1 6.5 -6.5 Z"/>
<path d="M518.2 706.8 H525.6 L518.7 694.4 L531.3 706.8 H627.5 a6.5 6.5 0 0 1 6.5 6.5 V730.7 a6.5 6.5 0 0 1 -6.5 6.5 H518.2 a6.5 6.5 0 0 1 -6.5 -6.5 V713.3 a6.5 6.5 0 0 1 6.5 -6.5 Z"/>
</g>
<text class="co" x="670.3" y="223.0" textLength="99.5" lengthAdjust="spacingAndGlyphs">Hi: 3645.99</text>
<text class="co" x="520.5" y="730.7" textLength="102" lengthAdjust="spacingAndGlyphs">Lo: 2191.86</text>
<rect x="866" y="0" width="98" height="1024" fill="#0b0b0b"/>
<rect x="0" y="998" width="964" height="26" fill="#0b0b0b"/>
<rect x="866" y="0" width="1" height="998" fill="#3a3a3a"/>
<rect x="0" y="997.4" width="866" height="1" fill="#5a5a5a"/>
<text class="ax" x="870.4" y="56.0">4531.58</text>
<text class="ax" x="870.4" y="120.0">4216.97</text>
<text class="ax" x="870.4" y="184.6">3924.19</text>
<text class="ax" x="870.4" y="247.5">3651.71</text>
<text class="ax" x="870.4" y="312.1">3398.21</text>
<text class="ax" x="870.4" y="376.7">3162.28</text>
<text class="ax" x="870.4" y="440.7">2942.73</text>
<text class="ax" x="870.4" y="503.7">2738.42</text>
<text class="ax" x="870.4" y="568.2">2548.3</text>
<text class="ax" x="870.4" y="633.0">2371.37</text>
<text class="ax" x="870.4" y="697.2">2206.73</text>
<text class="ax" x="870.4" y="760.4">2053.53</text>
<text class="ax" x="870.4" y="824.6">1910.95</text>
<text class="ax" x="870.4" y="889.2">1778.28</text>
<text class="ax" x="870.4" y="953.8">1654.82</text>
<rect x="870.2" y="-12" width="82" height="26.8" rx="5" fill="#a2a2a2"/>
<text class="ax" x="874.6" y="8.6" textLength="70" lengthAdjust="spacingAndGlyphs" style="fill:#141414">4768.39</text>
<rect x="870.8" y="236.4" width="81.6" height="23.4" rx="6" fill="#000" stroke="#5a5a5a" stroke-width="1.2"/>
<text class="ax" x="874.6" y="254.4" textLength="70.4" lengthAdjust="spacingAndGlyphs" style="fill:#fff">3612.54</text>
<rect x="1" y="999.4" width="57.6" height="25.2" rx="5" fill="#a6a6a6"/>
<text class="ax" x="6" y="1019.6" textLength="48.5" lengthAdjust="spacingAndGlyphs" style="fill:#141414">11/26</text>
<text class="ax" x="132.2" y="1020.9" textLength="30.5" lengthAdjust="spacingAndGlyphs">Apr</text>
<text class="ax" x="230.3" y="1020.9" textLength="20.5" lengthAdjust="spacingAndGlyphs">Jul</text>
<text class="ax" x="331.6" y="1020.9" textLength="29" lengthAdjust="spacingAndGlyphs">Oct</text>
<text class="ax" x="432.9" y="1020.9" textLength="21" lengthAdjust="spacingAndGlyphs">20</text>
<text class="ax" x="529.0" y="1020.9" textLength="30.5" lengthAdjust="spacingAndGlyphs">Apr</text>
<text class="ax" x="628.5" y="1020.9" textLength="20.5" lengthAdjust="spacingAndGlyphs">Jul</text>
<text class="ax" x="728.6" y="1020.9" textLength="29" lengthAdjust="spacingAndGlyphs">Oct</text>
<text class="ax" x="830" y="1020.9" textLength="19" lengthAdjust="spacingAndGlyphs">21</text>
<path d="M802 182.6 L814.5 170.2 L827.2 182.6 Z" fill="#000"/>
<path d="M808.9 394.1 L835.1 394.1 L821.9 406.8 Z" fill="#000"/>
<text class="sb t20" x="194.0" y="49.7">Wave Degrees</text>
<text class="sb t20" x="194.0" y="74.8">1 {+2}</text>
<text class="sb t20" x="255.10000000000002" y="74.8">Cycle</text>
<text class="sb t20" x="194.0" y="99.4">1 {+1}</text>
<text class="sb t20" x="261.0" y="99.4">Primary</text>
<text class="sb t20" x="194.0" y="124.3">3</text>
<text class="sb t20" x="262.6" y="124.3">Intermediate</text>
<text class="sb t20" x="194.0" y="149.0">5 {-1}</text>
<text class="sb t20" x="262.6" y="149.0">Minor</text>
<text class="sb t20" x="194.0" y="173.9">5 {-2}</text>
<text class="sb t20" x="262.6" y="173.9">Minute</text>
<text class="sb t20" x="194.0" y="198.7">5 {-3}</text>
<text class="sb t20" x="251.20000000000002" y="198.7">Minuette</text>
<text class="sb t20" x="194.0" y="223.8">5 {-4}</text>
<text class="sb t20" x="251.20000000000002" y="223.8" textLength="113.3" lengthAdjust="spacingAndGlyphs">Subminuette</text>
<text class="sb t20" x="194.0" y="248.3">5 {-5}</text>
<text class="sb t20" x="251.20000000000002" y="248.3">Micro</text>
<text class="sb t23" x="465.0" y="222.5">1 {-1}</text>
<text class="sb t20" x="446.9" y="254.6">2/19/2020</text>
<text class="sb t20" x="446.9" y="280.2">3393.52</text>
<text class="sb t23" x="714.7" y="123.2">3 {-1}</text>
<text class="sb t20" x="701.6" y="159.7" textLength="83.5" lengthAdjust="spacingAndGlyphs">11/9/2020</text>
<text class="sb t20" x="702" y="184.9">3645.99</text>
<text class="sb t28" x="807.4" y="208.5">5</text>
<text class="sb t23" x="795.4" y="386.8">4 {-1}</text>
<text class="sb t20" x="6.3" y="662.1">12/26/2018</text>
<text class="sb t20" x="6.1" y="687.1">2346.58</text>
<text class="sb t28" x="28.9" y="720.5">4</text>
<text class="sb t20" x="470.4" y="761.5">2/23/2020</text>
<text class="sb t20" x="470.4" y="787">2191.86</text>
<text class="sb t23" x="487.6" y="828.7">2 {-1}</text>
</svg></body></html>
